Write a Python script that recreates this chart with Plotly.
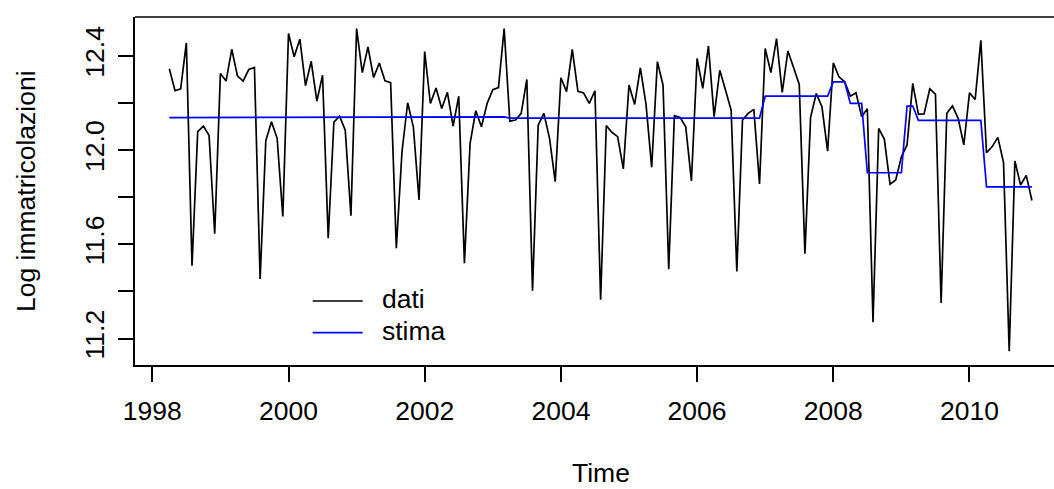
import plotly.graph_objects as go

# Monthly series, April 1998 - December 2010 (log of car registrations)
start_year = 1998
start_month = 4

dati = [
    12.345, 12.252, 12.260, 12.455, 11.509, 12.078, 12.102, 12.063, 11.645,                  # 1998 Apr-Dec
    12.325, 12.293, 12.428, 12.315, 12.293, 12.342, 12.351, 11.453, 12.040, 12.120, 12.050, 11.718,  # 1999
    12.495, 12.396, 12.471, 12.274, 12.377, 12.208, 12.318, 11.626, 12.119, 12.144, 12.085, 11.722,  # 2000
    12.516, 12.329, 12.438, 12.308, 12.370, 12.294, 12.286, 11.584, 11.993, 12.201, 12.099, 11.789,  # 2001
    12.418, 12.198, 12.264, 12.177, 12.245, 12.102, 12.229, 11.520, 12.029, 12.167, 12.099, 12.198,  # 2002
    12.257, 12.265, 12.516, 12.123, 12.128, 12.156, 12.300, 11.403, 12.106, 12.156, 12.050, 11.866,  # 2003
    12.307, 12.248, 12.428, 12.250, 12.243, 12.198, 12.252, 11.365, 12.104, 12.075, 12.057, 11.920,  # 2004
    12.276, 12.194, 12.349, 12.194, 11.927, 12.375, 12.276, 11.495, 12.146, 12.139, 12.099, 11.869,  # 2005
    12.389, 12.262, 12.442, 12.142, 12.339, 12.255, 12.170, 11.485, 12.128, 12.156, 12.173, 11.856,  # 2006
    12.431, 12.329, 12.473, 12.245, 12.421, 12.351, 12.279, 11.560, 12.139, 12.240, 12.184, 11.996,  # 2007
    12.370, 12.311, 12.290, 12.229, 12.243, 12.142, 12.176, 11.270, 12.092, 12.046, 11.855, 11.873,  # 2008
    11.972, 12.022, 12.283, 12.153, 12.154, 12.260, 12.238, 11.351, 12.156, 12.188, 12.135, 12.022,  # 2009
    12.243, 12.215, 12.466, 11.989, 12.015, 12.054, 11.947, 11.146, 11.954, 11.852, 11.893, 11.786,  # 2010
]

stima = [
    12.138, 12.138, 12.138, 12.138, 12.138, 12.138, 12.138, 12.138, 12.138,                  # 1998 Apr-Dec
    12.138, 12.138, 12.138, 12.138, 12.138, 12.138, 12.138, 12.138, 12.138, 12.138, 12.138, 12.138,  # 1999
    12.138, 12.138, 12.138, 12.138, 12.138, 12.138, 12.138, 12.138, 12.138, 12.138, 12.138, 12.138,  # 2000
    12.138, 12.138, 12.138, 12.138, 12.138, 12.138, 12.138, 12.138, 12.138, 12.138, 12.138, 12.138,  # 2001
    12.138, 12.138, 12.138, 12.138, 12.138, 12.138, 12.141, 12.141, 12.141, 12.141, 12.141, 12.141,  # 2002
    12.141, 12.141, 12.141, 12.136, 12.136, 12.136, 12.136, 12.136, 12.136, 12.136, 12.136, 12.136,  # 2003
    12.136, 12.136, 12.136, 12.136, 12.136, 12.136, 12.136, 12.136, 12.136, 12.136, 12.136, 12.136,  # 2004
    12.136, 12.136, 12.136, 12.136, 12.136, 12.136, 12.136, 12.136, 12.136, 12.136, 12.136, 12.136,  # 2005
    12.136, 12.136, 12.136, 12.136, 12.136, 12.136, 12.136, 12.136, 12.136, 12.136, 12.136, 12.136,  # 2006
    12.229, 12.229, 12.229, 12.229, 12.229, 12.229, 12.229, 12.229, 12.229, 12.229, 12.229, 12.229,  # 2007
    12.290, 12.290, 12.290, 12.198, 12.198, 12.198, 11.904, 11.904, 11.904, 11.904, 11.904, 11.904,  # 2008
    11.904, 12.187, 12.187, 12.126, 12.126, 12.126, 12.126, 12.126, 12.126, 12.126, 12.126, 12.126,  # 2009
    12.126, 12.126, 12.126, 11.844, 11.844, 11.844, 11.844, 11.844, 11.844, 11.844, 11.844, 11.844,  # 2010
]

x_tick_values = [1998, 2000, 2002, 2004, 2006, 2008, 2010]
x_tick_labels = ["1998", "2000", "2002", "2004", "2006", "2008", "2010"]
y_tick_values = [11.2, 11.4, 11.6, 11.8, 12.0, 12.2, 12.4]
y_tick_labels = ["11.2", "", "11.6", "", "12.0", "", "12.4"]

# time index of the monthly series
time = [start_year + (start_month - 1 + i) / 12 for i in range(len(dati))]

# ---- geometry (pixels) ----
W, H = 1054, 489
M_LEFT, M_TOP, M_BOTTOM, M_RIGHT = 135, 17, 124, 0
plot_w = W - M_LEFT - M_RIGHT
plot_h = H - M_TOP - M_BOTTOM
plot_bottom = H - M_BOTTOM


def px_x(p):
    return (p - M_LEFT) / plot_w


def px_y(p):
    return (plot_bottom - p) / plot_h


FONT = "Liberation Sans, Arial, Helvetica, sans-serif"
FS = 26.5
LW = 1.7

fig = go.Figure()
fig.add_trace(go.Scatter(x=time, y=dati, mode="lines", name="dati",
                         line=dict(color="black", width=LW)))
fig.add_trace(go.Scatter(x=time, y=stima, mode="lines", name="stima",
                         line=dict(color="#0000FF", width=LW)))

axis_common = dict(
    showgrid=False, zeroline=False, showline=True, linecolor="black", linewidth=LW,
    ticks="outside", ticklen=15, tickwidth=LW, tickcolor="black",
    tickfont=dict(family=FONT, size=FS, color="black"),
)

fig.update_xaxes(range=[1997.746, 2011.241], tickmode="array",
                 tickvals=x_tick_values, ticktext=x_tick_labels,
                 ticklabelstandoff=6, **axis_common)
fig.update_yaxes(range=[11.088, 12.565], tickmode="array",
                 tickvals=y_tick_values, ticktext=y_tick_labels,
                 tickangle=-90, ticklabelstandoff=4, **axis_common)

shapes = [
    # top edge of the plot box
    dict(type="line", xref="paper", yref="paper", x0=0, x1=1, y0=1, y1=1,
         line=dict(color="black", width=LW)),
    # legend keys
    dict(type="line", xref="paper", yref="paper",
         x0=px_x(312.7), x1=px_x(362.7), y0=px_y(301), y1=px_y(301),
         line=dict(color="black", width=LW)),
    dict(type="line", xref="paper", yref="paper",
         x0=px_x(312.7), x1=px_x(362.7), y0=px_y(332.7), y1=px_y(332.7),
         line=dict(color="#0000FF", width=LW)),
]

annotations = [
    dict(text="Time", xref="paper", yref="paper", x=px_x(600.5), y=px_y(488.5),
         xanchor="center", yanchor="bottom", borderpad=0, showarrow=False,
         font=dict(family=FONT, size=FS, color="black")),
    dict(text="Log immatricolazioni", xref="paper", yref="paper",
         x=px_x(26), y=px_y(191), textangle=-90,
         xanchor="center", yanchor="middle", showarrow=False,
         font=dict(family=FONT, size=FS, color="black")),
    dict(text="dati", xref="paper", yref="paper", x=px_x(380), y=px_y(299),
         xanchor="left", yanchor="middle", showarrow=False,
         font=dict(family=FONT, size=FS, color="black")),
    dict(text="stima", xref="paper", yref="paper", x=px_x(380), y=px_y(330.7),
         xanchor="left", yanchor="middle", showarrow=False,
         font=dict(family=FONT, size=FS, color="black")),
]

fig.update_layout(
    width=W, height=H, autosize=False,
    margin=dict(l=M_LEFT, r=M_RIGHT, t=M_TOP, b=M_BOTTOM, pad=0),
    paper_bgcolor="white", plot_bgcolor="white",
    showlegend=False,
    shapes=shapes, annotations=annotations,
    font=dict(family=FONT, size=FS, color="black"),
)

fig.write_html("out.html")
